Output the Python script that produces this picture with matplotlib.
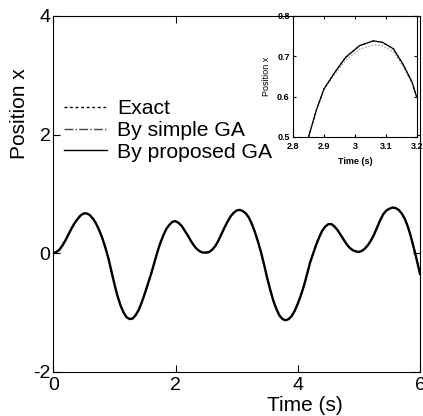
import matplotlib
matplotlib.use('Agg')
import matplotlib.pyplot as plt

plt.rcParams['font.family'] = ['Liberation Sans', 'DejaVu Sans']
plt.rcParams['axes.unicode_minus'] = False

# Main plot: values every 0.05 s
time = [round(0.05 * i, 2) for i in range(121)]
exact_x = [0.00, 0.02, 0.06, 0.13, 0.22, 0.32, 0.42, 0.51, 0.58, 0.64,
           0.67, 0.67, 0.64, 0.58, 0.50, 0.39, 0.26, 0.10, -0.08, -0.30,
           -0.52, -0.72, -0.88, -1.00, -1.08, -1.11, -1.10, -1.04, -0.95, -0.82,
           -0.67, -0.51, -0.35, -0.17, 0.01, 0.17, 0.30, 0.41, 0.48, 0.53,
           0.54, 0.51, 0.46, 0.38, 0.30, 0.21, 0.13, 0.07, 0.03, 0.01,
           0.01, 0.02, 0.06, 0.12, 0.21, 0.32, 0.43, 0.53, 0.62, 0.68,
           0.72, 0.73, 0.71, 0.67, 0.60, 0.49, 0.35, 0.19, 0.01, -0.20,
           -0.42, -0.62, -0.80, -0.94, -1.05, -1.11, -1.13, -1.11, -1.06, -0.97,
           -0.85, -0.71, -0.55, -0.36, -0.16, -0.01, 0.14, 0.27, 0.38, 0.45,
           0.49, 0.49, 0.45, 0.39, 0.31, 0.23, 0.15, 0.09, 0.05, 0.03,
           0.02, 0.04, 0.08, 0.14, 0.22, 0.32, 0.44, 0.56, 0.66, 0.72,
           0.75, 0.77, 0.76, 0.73, 0.67, 0.58, 0.45, 0.28, 0.08, -0.13, -0.35]
simple_x = exact_x
proposed_x = exact_x

# Inset: zoom around the third peak
inset_time = [2.85, 2.875, 2.90, 2.935, 2.97, 3.015, 3.06, 3.09, 3.125, 3.155, 3.185, 3.2]
inset_exact = [0.50, 0.566, 0.619, 0.660, 0.697, 0.726, 0.738, 0.734, 0.718, 0.681, 0.636, 0.599]
inset_simple = [0.50, 0.565, 0.617, 0.656, 0.690, 0.717, 0.728, 0.726, 0.710, 0.676, 0.632, 0.597]
inset_proposed = inset_exact

fig = plt.figure(figsize=(4.23, 4.16), dpi=100)
ax = fig.add_axes([0.126, 0.106, 0.867, 0.856])

ax.plot(time, exact_x, color='black', linestyle=(0, (2, 2)), linewidth=1.0, label='Exact')
ax.plot(time, simple_x, color='#444444', linestyle='-.', linewidth=0.8, label='By simple GA')
ax.plot(time, proposed_x, color='black', linestyle='-', linewidth=1.7,
        solid_joinstyle='round', label='By proposed GA')

ax.set_xlim(0, 6)
ax.set_ylim(-2, 4)
ax.set_xticks([0, 2, 4, 6])
ax.set_yticks([-2, 0, 2, 4])
ax.tick_params(direction='in', top=True, right=True, length=5, labelsize=14, pad=2)
ax.tick_params(axis='x', pad=4)
ax.set_xlabel('Time (s)', fontsize=15)
ax.xaxis.set_label_coords(0.686, -0.068)
ax.set_ylabel('Position x', fontsize=15)
ax.yaxis.set_label_coords(-0.066, 0.725)

leg = ax.legend(loc='upper left', bbox_to_anchor=(0.03, 0.765), frameon=False,
                fontsize=15.2, handlelength=2.0, handletextpad=0.5,
                labelspacing=0.12, borderpad=0, borderaxespad=0)
for line in leg.get_lines():
    line.set_linewidth(1.0)

# Inset axes
ins = fig.add_axes([0.693, 0.671, 0.292, 0.291])
ins.plot(inset_time, inset_exact, color='black', linestyle=(0, (2, 2)), linewidth=0.8)
ins.plot(inset_time, inset_simple, color='#999999', linestyle=(0, (1.5, 1.5)), linewidth=0.8)
ins.plot(inset_time, inset_proposed, color='black', linewidth=0.9, solid_joinstyle='round')
ins.set_xlim(2.8, 3.2)
ins.set_ylim(0.5, 0.8)
ins.set_xticks([2.8, 2.9, 3.0, 3.1, 3.2])
ins.set_xticklabels(['2.8', '2.9', '3', '3.1', '3.2'])
ins.set_yticks([0.5, 0.6, 0.7, 0.8])
ins.tick_params(direction='in', top=True, right=True, length=2.5, labelsize=6.5, pad=2.5)
ins.tick_params(axis='x', pad=4)
for lab in ins.get_xticklabels() + ins.get_yticklabels():
    lab.set_fontweight('bold')
ins.set_xlabel('Time (s)', fontsize=6.5, fontweight='bold', labelpad=4)
ins.set_ylabel('Position x', fontsize=6.5, labelpad=4)

fig.savefig('out.png', dpi=100)
